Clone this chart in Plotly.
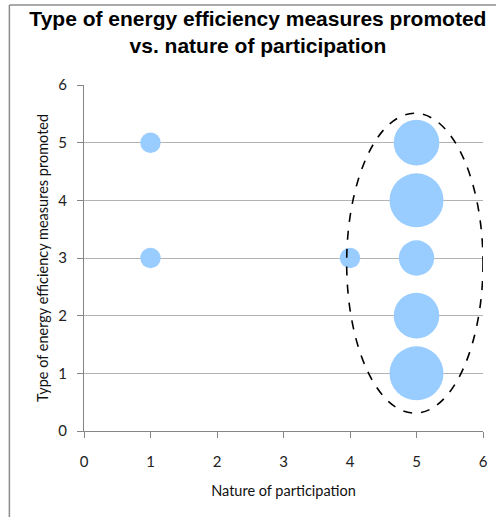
import plotly.graph_objects as go

# Data
participation = [1, 1, 4, 5, 5, 5, 5, 5]
measures = [5, 3, 3, 5, 4, 3, 2, 1]
counts = [1, 1, 1, 5, 7, 3, 5, 7]
x_ticks = [0, 1, 2, 3, 4, 5, 6]
y_ticks = [0, 1, 2, 3, 4, 5, 6]

max_diam = 54
fig = go.Figure()
fig.add_trace(go.Scatter(
    x=participation, y=measures, mode="markers",
    marker=dict(size=counts, sizemode="area",
                sizeref=2.0 * max(counts) / (max_diam ** 2),
                color="#99ccff", line=dict(width=0), opacity=1),
    hoverinfo="x+y", showlegend=False))

tickfont = dict(family="Lato, Carlito, Calibri, sans-serif", size=15, color="#222")
titlefont = dict(family="Lato, Carlito, Calibri, sans-serif", size=14.5, color="#111")

fig.update_layout(
    width=496, height=517,
    margin=dict(l=84, r=8, t=85, b=86),
    paper_bgcolor="white", plot_bgcolor="white",
    title=dict(text="<b>Type of energy efficiency measures promoted<br>vs. nature of participation</b>",
               x=0.52, xanchor="center", y=0.95, yanchor="top",
               font=dict(family="Liberation Sans, Arial, sans-serif", size=21, color="black")),
    xaxis=dict(range=[0, 6], tickvals=x_ticks, ticktext=[str(v) for v in x_ticks],
               showgrid=False, zeroline=False, showline=True, linecolor="#868686", linewidth=1,
               ticks="outside", ticklen=6, tickcolor="#868686", tickfont=tickfont,
               ticklabelstandoff=11,
               title=dict(text="Nature of participation", standoff=16, font=titlefont)),
    yaxis=dict(range=[0, 6], tickvals=y_ticks, ticktext=[str(v) for v in y_ticks],
               showgrid=True, gridcolor="#b3b3b3", gridwidth=1, zeroline=False,
               showline=True, linecolor="#868686", linewidth=1,
               ticks="outside", ticklen=6, tickcolor="#868686", tickfont=tickfont,
               ticklabelstandoff=7,
               title=dict(text="Type of energy efficiency measures promoted", standoff=6, font=titlefont)),
)

# dashed ellipse highlighting participation = 5
fig.add_shape(type="circle", xref="x", yref="y", x0=3.95, x1=6.0, y0=0.31, y1=5.51,
              line=dict(color="black", width=1.6, dash="dash"), layer="above")

# chart border (left and top), placed in paper units relative to the plot area
fig.add_shape(type="line", xref="paper", yref="paper", x0=-0.187, x1=-0.187, y0=-0.3, y1=1.231,
              line=dict(color="#8c8c8c", width=1.5))
fig.add_shape(type="line", xref="paper", yref="paper", x0=-0.187, x1=1.05, y0=1.231, y1=1.231,
              line=dict(color="#8c8c8c", width=1.5))

fig.write_html("out.html")
